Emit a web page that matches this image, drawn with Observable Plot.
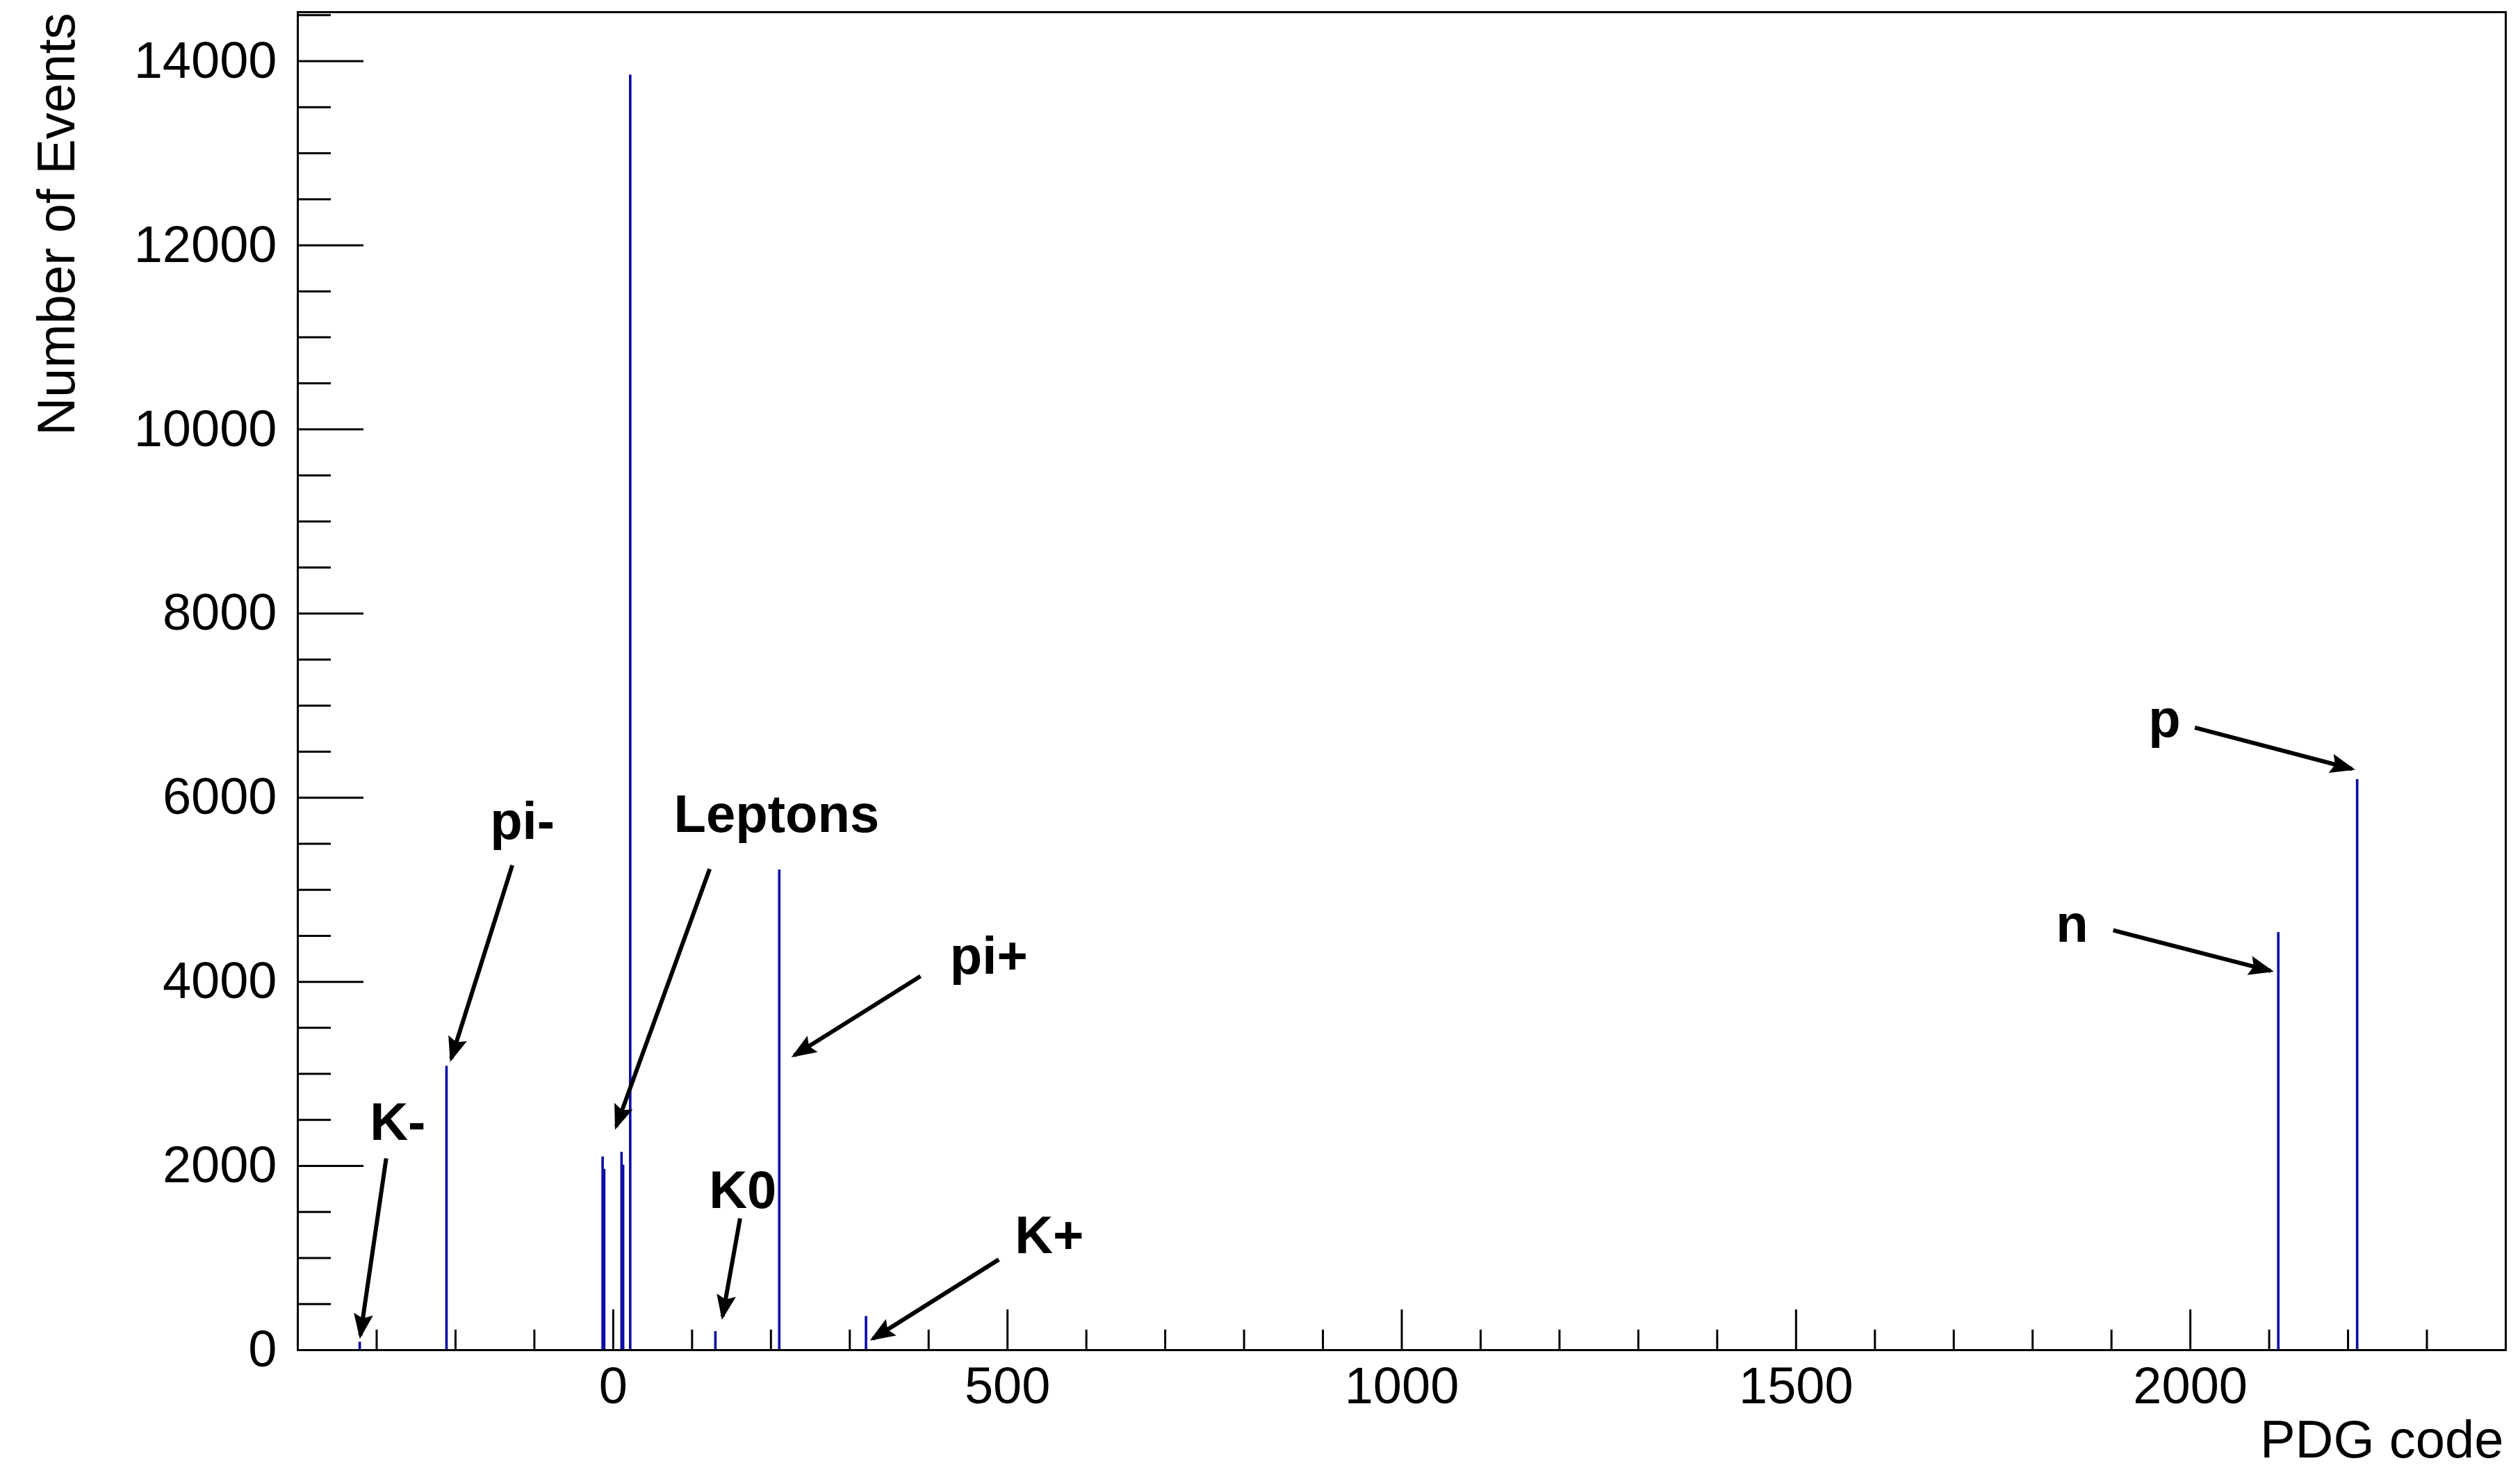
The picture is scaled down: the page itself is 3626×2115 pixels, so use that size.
<!DOCTYPE html>
<html>
<head>
<meta charset="utf-8">
<script src="https://cdn.jsdelivr.net/npm/d3@7"></script>
<script src="https://cdn.jsdelivr.net/npm/@observablehq/plot@0.6"></script>
<style>
  html, body { margin: 0; padding: 0; background: #ffffff; }
  #chart { width: 3626px; height: 2115px; }
</style>
</head>
<body>
<div id="chart"></div>
<script>
// ---- data ----
const pdgCodes    = [-321, -211, -13, -11, 11, 13, 22, 130, 211, 321, 2112, 2212];
const eventCounts = [78, 3075, 2090, 1955, 2140, 2000, 13840, 193, 5207, 357, 4527, 6189];

const xMajorTicks = [0, 500, 1000, 1500, 2000];
const xMinorTicks = [-300, -200, -100, 100, 200, 300, 400, 600, 700, 800, 900, 1100, 1200, 1300, 1400,
                     1600, 1700, 1800, 1900, 2100, 2200, 2300];
const yMajorTicks = [0, 2000, 4000, 6000, 8000, 10000, 12000, 14000];
const yMinorTicks = [500, 1000, 1500, 2500, 3000, 3500, 4500, 5000, 5500, 6500, 7000, 7500, 8500, 9000,
                     9500, 10500, 11000, 11500, 12500, 13000, 13500, 14500];

// annotation labels and arrows (in PDG code / event units)
const labelNames = ["K-", "pi-", "Leptons", "K0", "pi+", "K+", "n", "p"];
const labelX  = [-308.6, -156.2, 76.9, 121.5, 427.0, 509.3, 1829.5, 1946.8];
const labelY  = [2282, 5551, 5631, 1547, 4088, 1055, 4433, 6661];
const arrowX1 = [-287.9, -128.0, 122.3, 160.9, 389.7, 489.0, 1902.2, 2005.7];
const arrowY1 = [2083, 5266, 5226, 1430, 4061, 984, 4560, 6761];
const arrowX2 = [-320.7, -205.5, 3.8, 138.6, 229.6, 329.3, 2101.7, 2204.9];
const arrowY2 = [159, 3165, 2429, 365, 3201, 123, 4119, 6313];

const xTitle = "PDG code";
const yTitle = "Number of Events";

// ---- tables built from arrays ----
const bars = pdgCodes.map((c, i) => ({code: c, count: eventCounts[i]}));
const labels = labelNames.map((t, i) => ({text: t, x: labelX[i], y: labelY[i]}));
const arrows = labelNames.map((t, i) => ({x1: arrowX1[i], y1: arrowY1[i], x2: arrowX2[i], y2: arrowY2[i]}));

const barColor = "#0d0da6";
const font = "'Liberation Sans', Arial, Helvetica, sans-serif";

const chart = Plot.plot({
  width: 3626,
  height: 2115,
  marginLeft: 428,
  marginRight: 21,
  marginTop: 17,
  marginBottom: 173,
  style: {fontFamily: font, fontSize: "74px", color: "#000", background: "#fff"},
  x: {domain: [-400, 2400]},
  y: {domain: [0, 14532]},
  marks: [
    Plot.rectY(bars, {x1: d => d.code - 0.5, x2: d => d.code + 0.5, y: "count",
                      fill: barColor, stroke: barColor, strokeWidth: 2.5}),
    // x axis: major ticks + labels, minor ticks (inward)
    Plot.axisX({ticks: xMajorTicks, tickSize: -58, tickPadding: 82, strokeWidth: 3,
                tickFormat: d => String(d), label: null, fontSize: 74}),
    Plot.axisX({ticks: xMinorTicks, tickSize: -29, strokeWidth: 3, tickFormat: () => "", label: null}),
    // y axis
    Plot.axisY({ticks: yMajorTicks, tickSize: -95, tickPadding: 125, strokeWidth: 3,
                tickFormat: d => String(d), label: null, fontSize: 74}),
    Plot.axisY({ticks: yMinorTicks, tickSize: -48, strokeWidth: 3, tickFormat: () => "", label: null}),
    Plot.frame({stroke: "#000", strokeWidth: 3}),
    // axis titles
    Plot.text([xTitle], {frameAnchor: "bottom-right", text: d => d, textAnchor: "end", lineAnchor: "bottom",
                         dx: -3, dy: 154, fontSize: 76}),
    Plot.text([yTitle], {frameAnchor: "top-left", text: d => d, rotate: -90, textAnchor: "end", lineAnchor: "bottom",
                         dx: -322, dy: 1, fontSize: 76}),
    // annotations
    Plot.link(arrows, {x1: "x1", y1: "y1", x2: "x2", y2: "y2", stroke: "#000", strokeWidth: 6,
                       className: "annot-arrow"}),
    Plot.text(labels, {x: "x", y: "y", text: "text", textAnchor: "start", lineAnchor: "bottom",
                       fontWeight: "bold", fontSize: 76, fill: "#000"})
  ]
});

// filled triangular arrow heads (ROOT "|>" style)
const ns = "http://www.w3.org/2000/svg";
const defs = document.createElementNS(ns, "defs");
const marker = document.createElementNS(ns, "marker");
marker.setAttribute("id", "rootArrowHead");
marker.setAttribute("viewBox", "-36 -16 42 32");
marker.setAttribute("markerUnits", "userSpaceOnUse");
marker.setAttribute("markerWidth", "42");
marker.setAttribute("markerHeight", "32");
marker.setAttribute("refX", "0");
marker.setAttribute("refY", "0");
marker.setAttribute("orient", "auto");
const head = document.createElementNS(ns, "path");
head.setAttribute("d", "M5,0 L-31,-14 L-25,0 L-31,14 Z");
head.setAttribute("fill", "#000");
marker.appendChild(head);
defs.appendChild(marker);
chart.insertBefore(defs, chart.firstChild);
chart.querySelectorAll(".annot-arrow path, g.annot-arrow path").forEach(p => {
  p.setAttribute("marker-end", "url(#rootArrowHead)");
});

document.getElementById("chart").appendChild(chart);
</script>
</body>
</html>
